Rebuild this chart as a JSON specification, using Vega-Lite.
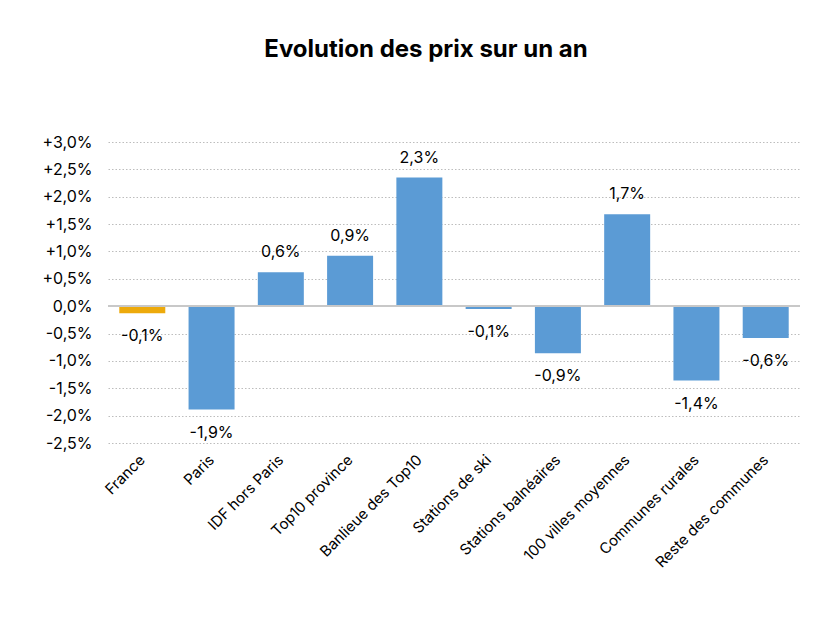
{
  "$schema": "https://vega.github.io/schema/vega-lite/v6.json",
  "autosize": "none",
  "width": 692,
  "height": 301,
  "padding": {"left": 108, "top": 142, "right": 33, "bottom": 182},
  "background": "white",
  "config": {"font": "Inter", "view": {"stroke": null}},
  "title": {
    "text": "Evolution des prix sur un an",
    "fontSize": 24,
    "fontWeight": "bold",
    "color": "#000000",
    "anchor": "middle",
    "dx": -28,
    "offset": 72
  },
  "data": {
    "values": [
      {"zone": "France", "value": -0.13, "label": "-0,1%", "type": "france"},
      {"zone": "Paris", "value": -1.89, "label": "-1,9%", "type": "other"},
      {"zone": "IDF hors Paris", "value": 0.62, "label": "0,6%", "type": "other"},
      {"zone": "Top10 province", "value": 0.92, "label": "0,9%", "type": "other"},
      {"zone": "Banlieue des Top10", "value": 2.35, "label": "2,3%", "type": "other"},
      {"zone": "Stations de ski", "value": -0.05, "label": "-0,1%", "type": "other"},
      {"zone": "Stations balnéaires", "value": -0.86, "label": "-0,9%", "type": "other"},
      {"zone": "100 villes moyennes", "value": 1.68, "label": "1,7%", "type": "other"},
      {"zone": "Communes rurales", "value": -1.36, "label": "-1,4%", "type": "other"},
      {"zone": "Reste des communes", "value": -0.58, "label": "-0,6%", "type": "other"}
    ]
  },
  "encoding": {
    "x": {
      "field": "zone",
      "type": "nominal",
      "sort": null,
      "scale": {"paddingInner": 0.336, "paddingOuter": 0.163},
      "axis": {
        "title": null,
        "labelAngle": -45,
        "labelFontSize": 15,
        "labelColor": "#000000",
        "labelAlign": "right",
        "labelBaseline": "middle",
        "labelPadding": 14,
        "labelOverlap": false,
        "ticks": false,
        "domain": false
      }
    },
    "y": {
      "field": "value",
      "type": "quantitative",
      "scale": {"domain": [-2.5, 3.0], "nice": false, "zero": false},
      "axis": {
        "title": null,
        "values": [-2.5, -2, -1.5, -1, -0.5, 0, 0.5, 1, 1.5, 2, 2.5, 3],
        "tickCount": 12,
        "labelExpr": "(datum.value > 0 ? '+' : (datum.value < 0 ? '-' : '')) + replace(format(abs(datum.value), '.1f'), '.', ',') + '%'",
        "labelFontSize": 16,
        "labelColor": "#000000",
        "labelPadding": 16,
        "labelOverlap": false,
        "labelBound": false,
        "labelFlush": false,
        "ticks": false,
        "domain": false,
        "gridColor": "#bdbdbd",
        "gridDash": [1.5, 2],
        "gridWidth": 1
      }
    }
  },
  "layer": [
    {
      "mark": {"type": "bar"},
      "encoding": {
        "color": {
          "field": "type",
          "type": "nominal",
          "scale": {"domain": ["france", "other"], "range": ["#EDAA0C", "#5B9BD5"]},
          "legend": null
        }
      }
    },
    {
      "transform": [{"filter": "datum.value > 0"}],
      "mark": {"type": "text", "fontSize": 16, "dy": -20, "color": "#000000"},
      "encoding": {
        "text": {"field": "label"}
      }
    },
    {
      "transform": [{"filter": "datum.value < 0"}],
      "mark": {"type": "text", "fontSize": 16, "dy": 23, "color": "#000000"},
      "encoding": {
        "text": {"field": "label"}
      }
    },
    {
      "mark": {"type": "rule", "color": "#c8c8c8", "strokeWidth": 1.5},
      "encoding": {
        "x": {"value": 0},
        "x2": {"value": 692},
        "y": {"datum": 0, "type": "quantitative"}
      }
    }
  ]
}
